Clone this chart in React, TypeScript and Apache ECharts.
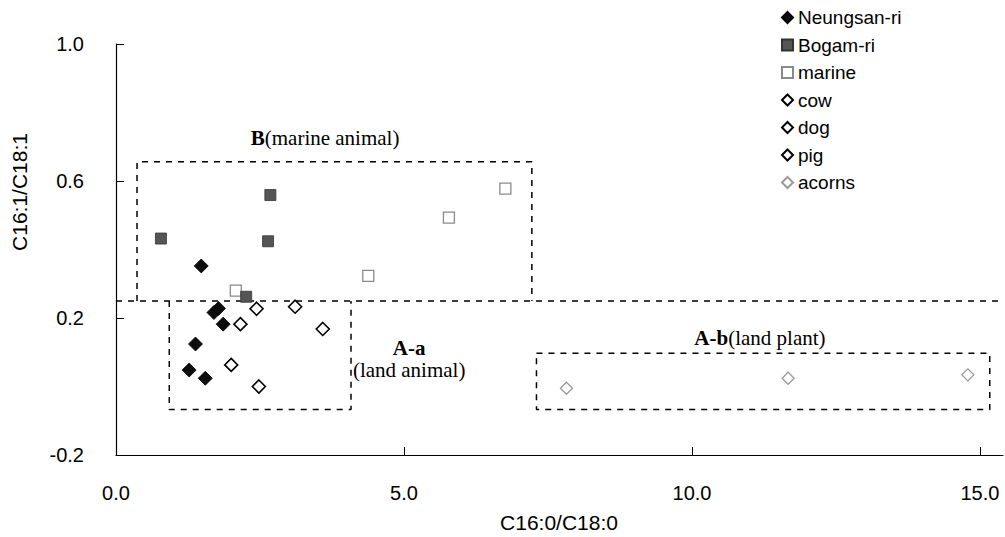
import React, { useEffect, useRef } from "react";
import * as echarts from "echarts";

// ---- data (C16:0/C18:0 , C16:1/C18:1) ----
const neungsanRi = [
  [1.48, 0.352], [1.70, 0.216], [1.78, 0.228], [1.86, 0.182],
  [1.38, 0.124], [1.27, 0.048], [1.55, 0.024],
];
const bogamRi = [[0.78, 0.432], [2.68, 0.559], [2.64, 0.424], [2.26, 0.262]];
const marine = [[2.08, 0.28], [4.38, 0.323], [5.78, 0.493], [6.76, 0.578]];
const cow = [[2.44, 0.227], [3.11, 0.233]];
const dog = [[2.16, 0.182], [3.59, 0.168]];
const pig = [[2.0, 0.063], [2.48, 0.0]];
const acorns = [[7.82, -0.005], [11.67, 0.024], [14.79, 0.034]];

const legendNames = ["Neungsan-ri", "Bogam-ri", "marine", "cow", "dog", "pig", "acorns"];

// group boundaries (dashed boxes), in data units
const divideY = 0.25;
const boxB = [[0.365, divideY], [0.365, 0.656], [7.22, 0.656], [7.22, divideY]];
const boxAa = [[0.925, divideY], [0.925, -0.067], [4.08, -0.067], [4.08, divideY]];
const boxAb = [[7.3, 0.097], [15.17, 0.097], [15.17, -0.067], [7.3, -0.067], [7.3, 0.097]];
const divideLine = [[0, divideY], [15.4, divideY]];

// annotation anchors
const labelB = [[3.63, 0.725]];
const labelAa = [[5.09, 0.08]];
const labelAb = [[11.18, 0.143]];

const xTicks = [0, 5, 10, 15];
const yTicks = [-0.2, 0.2, 0.6, 1.0];

const SERIF = "'Liberation Serif', 'Times New Roman', serif";
const SANS = "'Liberation Sans', Arial, Helvetica, sans-serif";

export default function App() {
  const ref = useRef<HTMLDivElement>(null);
  useEffect(() => {
    if (!ref.current) return;
    const chart = echarts.init(ref.current, null, { renderer: "svg" });
    const dashed = {
      type: "line",
      symbol: "none",
      silent: true,
      lineStyle: { color: "#000", width: 1.5, type: [6, 6] },
      z: 1,
    };
    const textSeries = (data: number[][], formatter: string, lh: number) => ({
      type: "scatter",
      data,
      symbolSize: 0,
      silent: true,
      itemStyle: { opacity: 1 },
      label: {
        show: true,
        position: "inside",
        formatter,
        fontFamily: SERIF,
        fontSize: 21,
        color: "#000",
        opacity: 1,
        lineHeight: lh,
        rich: {
          b: { fontFamily: SERIF, fontSize: 21, fontWeight: "bold", color: "#000", lineHeight: lh },
          n: { fontFamily: SERIF, fontSize: 21, color: "#000", lineHeight: lh },
        },
      },
    });
    const openDiamond = (name: string, data: number[][]) => ({
      name,
      type: "scatter",
      data,
      symbol: "diamond",
      symbolSize: 13,
      itemStyle: { color: "#fff", borderColor: "#000", borderWidth: 1.6, opacity: 1 },
      z: 5,
    });
    chart.setOption({
      animation: false,
      backgroundColor: "#fff",
      grid: { left: 116, right: 2, top: 44, bottom: 82 },
      legend: {
        data: legendNames,
        orient: "vertical",
        left: 781,
        top: 8,
        padding: 0,
        itemWidth: 11,
        itemHeight: 11,
        itemGap: 8.5,
        textStyle: { fontFamily: SANS, fontSize: 19, lineHeight: 19, color: "#000" },
        selectedMode: false,
      },
      xAxis: {
        type: "value",
        min: 0,
        max: 15.4,
        interval: 5,
        splitLine: { show: false },
        axisLine: { onZero: false, lineStyle: { color: "#000", width: 1.2 } },
        axisTick: { inside: true, length: 8, lineStyle: { color: "#000" } },
        axisLabel: {
          fontFamily: SANS,
          fontSize: 20,
          color: "#000",
          margin: 28,
          showMaxLabel: false,
          formatter: (v: number) => (xTicks.indexOf(v) >= 0 ? v.toFixed(1) : ""),
        },
      },
      yAxis: {
        type: "value",
        min: -0.2,
        max: 1.0,
        interval: 0.4,
        splitLine: { show: false },
        axisLine: { show: true, onZero: false, lineStyle: { color: "#000", width: 1.2 } },
        axisTick: { show: true, inside: true, length: 8, lineStyle: { color: "#000" } },
        axisLabel: {
          fontFamily: SANS,
          fontSize: 20,
          color: "#000",
          margin: 32,
          formatter: (v: number) => {
            const r = Math.round(v * 10) / 10;
            return yTicks.some((t) => Math.abs(t - r) < 1e-6) ? r.toFixed(1) : "";
          },
        },
      },
      graphic: [
        {
          type: "text",
          x: 559,
          y: 522,
          style: {
            text: "C16:0/C18:0",
            font: `21px ${SANS}`,
            fill: "#000",
            textAlign: "center",
            textVerticalAlign: "middle",
          },
        },
        {
          type: "text",
          x: 19,
          y: 192,
          rotation: Math.PI / 2,
          style: {
            text: "C16:1/C18:1",
            font: `21px ${SANS}`,
            fill: "#000",
            textAlign: "center",
            textVerticalAlign: "middle",
          },
        },
      ],
      series: [
        { ...dashed, data: divideLine },
        { ...dashed, data: boxB },
        { ...dashed, data: boxAa },
        { ...dashed, data: boxAb },
        textSeries(labelB, "{b|B}{n|(marine animal)}", 25),
        textSeries(labelAa, "{b|A-a}\n{n|(land animal)}", 22),
        textSeries(labelAb, "{b|A-b}{n|(land plant)}", 25),
        {
          name: "Neungsan-ri",
          type: "scatter",
          data: neungsanRi,
          symbol: "diamond",
          symbolSize: 14,
          itemStyle: { color: "#0d0d0d", borderColor: "#000", borderWidth: 0.8, opacity: 1 },
          z: 6,
        },
        {
          name: "Bogam-ri",
          type: "scatter",
          data: bogamRi,
          symbol: "rect",
          symbolSize: 11,
          itemStyle: { color: "#555", borderColor: "#333", borderWidth: 0.8, opacity: 1 },
          z: 6,
        },
        {
          name: "marine",
          type: "scatter",
          data: marine,
          symbol: "rect",
          symbolSize: 11,
          itemStyle: { color: "#fff", borderColor: "#8a8a8a", borderWidth: 1.3, opacity: 1 },
          z: 5,
        },
        openDiamond("cow", cow),
        openDiamond("dog", dog),
        openDiamond("pig", pig),
        {
          name: "acorns",
          type: "scatter",
          data: acorns,
          symbol: "diamond",
          symbolSize: 12,
          itemStyle: { color: "#fff", borderColor: "#9a9a9a", borderWidth: 1.3, opacity: 1 },
          z: 5,
        },
      ],
    });
    return () => chart.dispose();
  }, []);
  return <div ref={ref} style={{ width: 1005, height: 537, position: "absolute", left: 0, top: 0 }} />;
}
